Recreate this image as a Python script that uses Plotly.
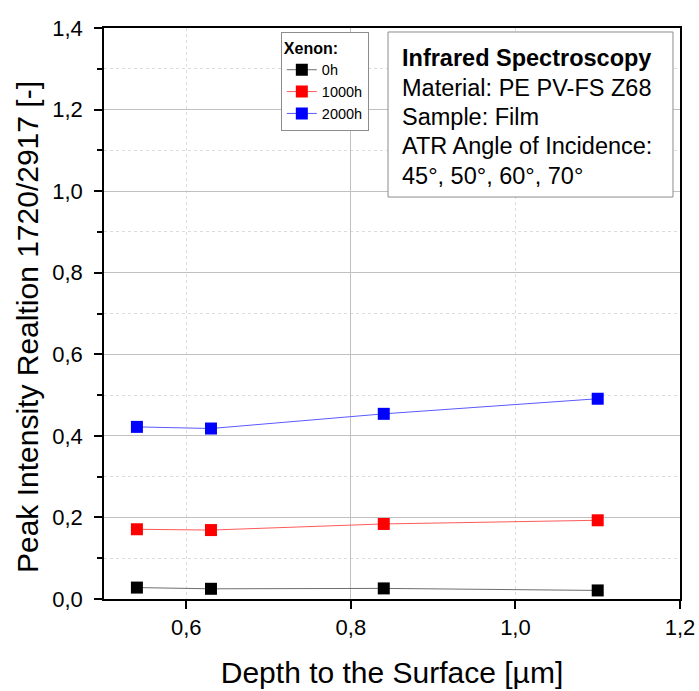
import plotly.graph_objects as go

depth_um = [0.54, 0.63, 0.84, 1.10]
ratio_0h = [0.028, 0.025, 0.026, 0.021]
ratio_1000h = [0.171, 0.169, 0.184, 0.193]
ratio_2000h = [0.422, 0.418, 0.454, 0.491]

series_names = ["0h", "1000h", "2000h"]
marker_colors = ["#000000", "#ff0000", "#0000ff"]
line_colors = ["#6e6e6e", "#ff5a5a", "#5a5aff"]

x_title = "Depth to the Surface [µm]"
y_title = "Peak Intensity Realtion 1720/2917 [-]"
info_lines = ["<b>Infrared Spectroscopy</b>", "Material: PE PV-FS Z68",
              "Sample: Film", "ATR Angle of Incidence:", "45°, 50°, 60°, 70°"]

FONT = "Liberation Sans, Arial, sans-serif"

fig = go.Figure()
for name, ys, mc, lc in zip(series_names, [ratio_0h, ratio_1000h, ratio_2000h],
                            marker_colors, line_colors):
    fig.add_trace(go.Scatter(
        x=depth_um, y=ys, name=name, mode="lines+markers",
        line=dict(color=lc, width=1),
        marker=dict(symbol="square", size=12, color=mc, line=dict(width=0)),
    ))

# empty helper trace so the grid-only overlay axis is drawn
fig.add_trace(go.Scatter(x=[None], y=[None], xaxis="x2", yaxis="y",
                         showlegend=False, hoverinfo="skip"))

# info box text, one annotation per line (top line centre and line pitch in px)
PLOT_TOP, PLOT_BOTTOM = 28, 599
first_line_px, line_pitch_px = 58.3, 29.3
info_annotations = []
for i, line in enumerate(info_lines):
    py = first_line_px + i * line_pitch_px
    info_annotations.append(dict(
        text=line, xref="paper", yref="paper",
        x=0.516, y=(PLOT_BOTTOM - py) / (PLOT_BOTTOM - PLOT_TOP),
        xanchor="left", yanchor="middle", align="left", showarrow=False,
        font=dict(size=23.5, family=FONT, color="#000000"), borderpad=0,
    ))

fig.update_layout(
    width=699, height=691,
    margin=dict(l=104, r=19, t=28, b=92, autoexpand=False),
    paper_bgcolor="white", plot_bgcolor="white",
    separators=",.",
    font=dict(family=FONT, color="#000000"),
    showlegend=True,
    legend=dict(
        x=0.307, y=0.993, xanchor="left", yanchor="top",
        bgcolor="white", bordercolor="#8c8c8c", borderwidth=1,
        font=dict(size=14.5, family=FONT),
        title=dict(text="<b>Xenon:</b>", font=dict(size=16, family=FONT)),
        tracegroupgap=0,
    ),
    xaxis=dict(
        range=[0.5, 1.2], tick0=0, dtick=0.2, tickformat=".1f",
        showgrid=False, zeroline=False, automargin=False,
        showline=True, linecolor="#000000", linewidth=1.5, mirror=True,
        ticks="outside", ticklen=8, tickwidth=1.5, tickcolor="#000000",
        tickfont=dict(size=22, family=FONT),
        title=dict(text=x_title, font=dict(size=30, family=FONT), standoff=23),
    ),
    xaxis2=dict(
        overlaying="x", anchor="y", range=[0.5, 1.2], automargin=False,
        tick0=0, dtick=0.4, showticklabels=False, ticks="",
        showline=False, zeroline=False,
        showgrid=True, gridcolor="#c0c0c0", gridwidth=1,
        minor=dict(dtick=0.2, tick0=0, showgrid=True, griddash="dot",
                   gridcolor="#dcdcdc", gridwidth=1, ticks=""),
    ),
    yaxis=dict(
        range=[0, 1.4], tick0=0, dtick=0.2, tickformat=".1f",
        showgrid=True, gridcolor="#c0c0c0", gridwidth=1, zeroline=False,
        automargin=False,
        showline=True, linecolor="#000000", linewidth=1.5, mirror=True,
        ticks="outside", ticklen=8, tickwidth=1.5, tickcolor="#000000",
        ticklabelstandoff=7,
        tickfont=dict(size=22, family=FONT),
        minor=dict(dtick=0.1, tick0=0, ticks="outside", ticklen=5,
                   tickwidth=1.5, tickcolor="#000000",
                   showgrid=True, griddash="dot", gridcolor="#dcdcdc", gridwidth=1),
    ),
    shapes=[dict(
        type="rect", xref="paper", yref="paper",
        x0=0.4931, x1=0.9878, y0=0.704, y1=0.993,
        line=dict(color="#8c8c8c", width=1), fillcolor="white", layer="above",
    )],
    annotations=info_annotations + [
        dict(
            text=y_title, xref="paper", yref="paper", textangle=-90,
            x=-0.134, y=0.476, xanchor="center", yanchor="middle",
            showarrow=False, font=dict(size=30, family=FONT, color="#000000"),
        ),
    ],
)

fig.write_html("out.html")
